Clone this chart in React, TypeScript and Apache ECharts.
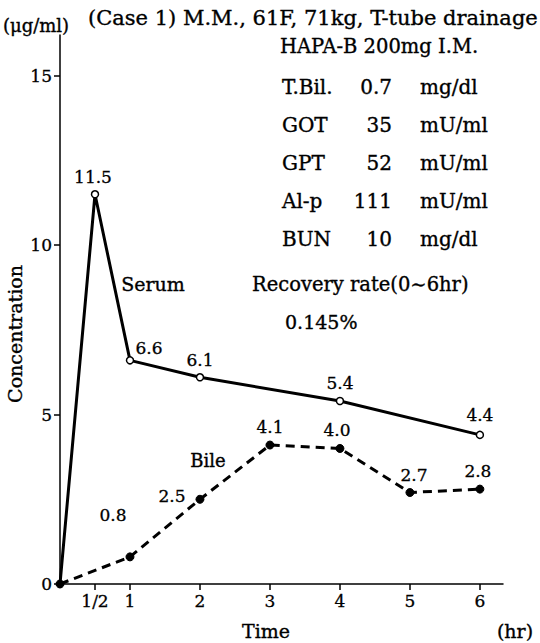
import React, { useEffect, useRef } from "react";
import * as echarts from "echarts";

const serumTimes = [0, 0.5, 1, 2, 4, 6];
const serumValues = [0, 11.5, 6.6, 6.1, 5.4, 4.4];
const bileTimes = [0, 1, 2, 3, 4, 5, 6];
const bileValues = [0, 0.8, 2.5, 4.1, 4.0, 2.7, 2.8];
const xTickValues = [0.5, 1, 2, 3, 4, 5, 6];
const yTickValues = [0, 5, 10, 15];
const labTests = ["T.Bil.", "GOT", "GPT", "Al-p", "BUN"];
const labValues = ["0.7", "35", "52", "111", "10"];
const labUnits = ["mg/dl", "mU/ml", "mU/ml", "mU/ml", "mg/dl"];

// label placement (style only)
const serumLabelPos = ["top", "top", "top", "top", "top", "top"];
const serumOffsets: [number, number][] = [[0, 0], [-2, 0], [19, 5], [0, 0], [0, 0], [0, -2]];
const bileLabelPos = ["top", "top", "left", "top", "top", "top", "top"];
const bileOffsets: [number, number][] = [[0, 0], [-17, -24], [-5, -3], [0, 0], [-3, 0], [4, 0], [-2, 0]];

const FONT = "DejaVu Serif";

export default function App() {
  const ref = useRef<HTMLDivElement>(null);
  useEffect(() => {
    if (!ref.current) return;
    const chart = echarts.init(ref.current, null, { renderer: "svg" });
    const txt = (size: number) => ({
      fontFamily: FONT, fontSize: size, fill: "#000",
      stroke: "#000", lineWidth: 0.35,
    });
    const graphics: any[] = [
      { type: "text", x: 88, y: 18, style: { ...txt(21), text: "(Case 1) M.M., 61F, 71kg, T-tube drainage", verticalAlign: "middle" } },
      { type: "text", x: 280, y: 46, style: { ...txt(19.5), text: "HAPA-B 200mg I.M.", verticalAlign: "middle" } },
      { type: "text", x: 36, y: 25, style: { ...txt(18), text: "(μg/ml)", align: "center", verticalAlign: "middle" } },
      { type: "text", x: 5, y: 334, rotation: Math.PI / 2, style: { ...txt(19), text: "Concentration", align: "center", verticalAlign: "top" } },
      { type: "text", x: 266, y: 631, style: { ...txt(19), text: "Time", align: "center", verticalAlign: "middle" } },
      { type: "text", x: 515, y: 631, style: { ...txt(19), text: "(hr)", align: "center", verticalAlign: "middle" } },
      { type: "text", x: 153, y: 284, style: { ...txt(19), text: "Serum", align: "center", verticalAlign: "middle" } },
      { type: "text", x: 208, y: 460, style: { ...txt(18), text: "Bile", align: "center", verticalAlign: "middle" } },
      { type: "text", x: 252, y: 284, style: { ...txt(19.5), text: "Recovery rate(0∼6hr)", verticalAlign: "middle" } },
      { type: "text", x: 285, y: 322, style: { ...txt(19), text: "0.145%", verticalAlign: "middle" } },
    ];
    labTests.forEach((t, i) => {
      const y = 87 + i * 38;
      graphics.push({ type: "text", x: 282, y, style: { ...txt(20), text: t, verticalAlign: "middle" } });
      graphics.push({ type: "text", x: 392, y, style: { ...txt(20), text: labValues[i], align: "right", verticalAlign: "middle" } });
      graphics.push({ type: "text", x: 420, y, style: { ...txt(20), text: labUnits[i], verticalAlign: "middle" } });
    });

    const labelBase = {
      show: true, fontFamily: FONT, fontSize: 17, color: "#000",
      textBorderColor: "#000", textBorderWidth: 0.3,
    };
    const serumData = serumTimes.map((t, i) => ({
      value: [t, serumValues[i]],
      symbol: i === 0 ? "none" : "circle",
      label: i === 0 ? { show: false } : {
        ...labelBase, position: serumLabelPos[i], offset: serumOffsets[i], formatter: serumValues[i].toFixed(1),
      },
    }));
    const bileData = bileTimes.map((t, i) => ({
      value: [t, bileValues[i]],
      label: i === 0 ? { show: false } : {
        ...labelBase, position: bileLabelPos[i], offset: bileOffsets[i], formatter: bileValues[i].toFixed(1),
      },
    }));

    const axisLabelStyle = {
      fontFamily: FONT, fontSize: 17, color: "#000", margin: 8,
      textBorderColor: "#000", textBorderWidth: 0.3,
    };

    chart.setOption({
      animation: false,
      backgroundColor: "#fff",
      grid: { left: 60, right: 37, top: 35, bottom: 59, containLabel: false },
      xAxis: {
        type: "value",
        min: 0,
        max: 6.33,
        axisLine: { show: true, lineStyle: { color: "#000", width: 1.5 } },
        axisTick: { show: true, customValues: xTickValues, length: 6, lineStyle: { color: "#000", width: 1.5 } },
        axisLabel: {
          ...axisLabelStyle,
          customValues: xTickValues,
          formatter: (v: number) => (v === 0.5 ? "1/2" : String(v)),
        },
        splitLine: { show: false },
      },
      yAxis: {
        type: "value",
        min: 0,
        max: 16.2,
        axisLine: { show: true, lineStyle: { color: "#000", width: 1.5 } },
        axisTick: { show: true, customValues: yTickValues, length: 6, lineStyle: { color: "#000", width: 1.5 } },
        axisLabel: { ...axisLabelStyle, customValues: yTickValues },
        splitLine: { show: false },
      },
      series: [
        {
          name: "Serum",
          type: "line",
          data: serumData,
          symbol: "circle",
          symbolSize: 7,
          itemStyle: { color: "#fff", borderColor: "#000", borderWidth: 1.5 },
          lineStyle: { color: "#000", width: 3 },
          z: 3,
        },
        {
          name: "Bile",
          type: "line",
          data: bileData,
          symbol: "circle",
          symbolSize: 8,
          itemStyle: { color: "#000", borderColor: "#000" },
          lineStyle: { color: "#000", width: 3, type: [9, 6] },
          z: 2,
        },
      ],
      graphic: graphics,
    });
    return () => chart.dispose();
  }, []);
  return <div ref={ref} style={{ width: 540, height: 643, position: "absolute", left: 0, top: 0 }} />;
}
